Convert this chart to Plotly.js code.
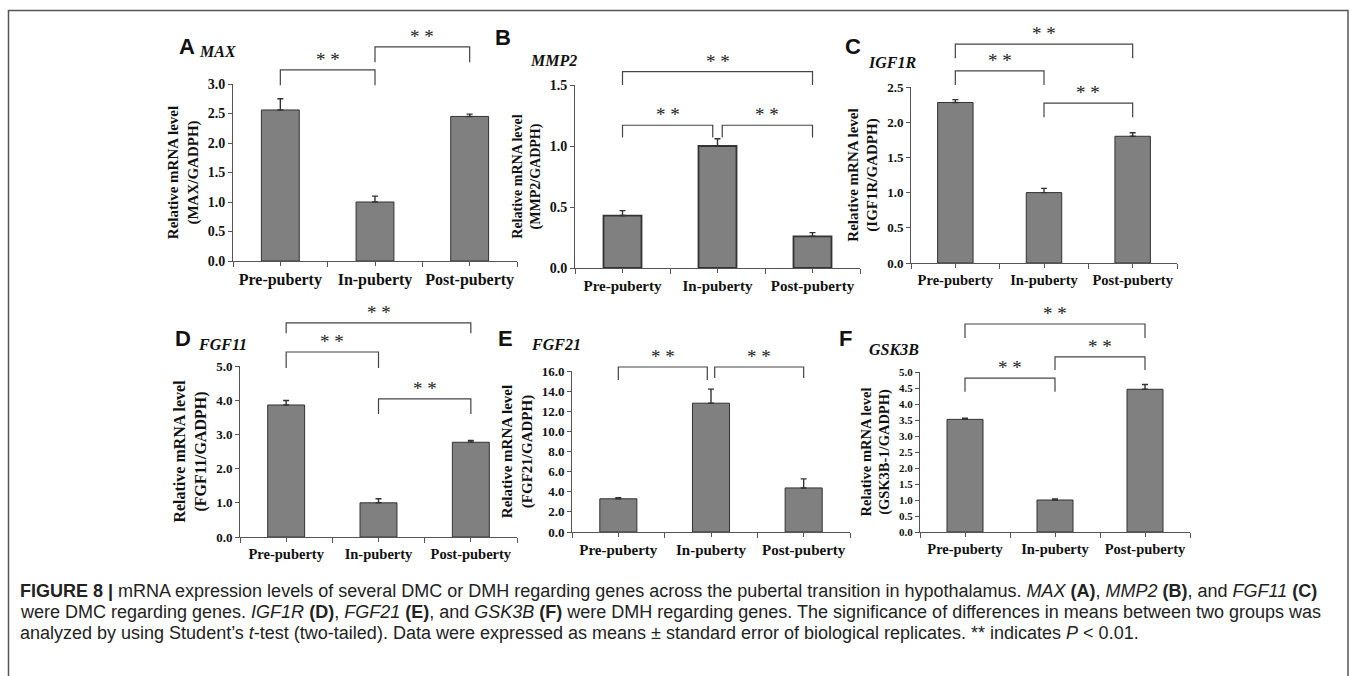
<!DOCTYPE html>
<html><head><meta charset="utf-8">
<script src="https://cdn.plot.ly/plotly-3.0.1.min.js"></script>
<style>html,body{margin:0;padding:0;background:#fff}#chart{width:1357px;height:676px}</style>
</head><body><div id="chart"></div>
<script>
// ---------- DATA ----------
const categories = ['Pre-puberty', 'In-puberty', 'Post-puberty'];
const panelLetters = ['A', 'B', 'C', 'D', 'E', 'F'];
const geneNames = ['MAX', 'MMP2', 'IGF1R', 'FGF11', 'FGF21', 'GSK3B'];
const yTitleRatios = ['MAX/GADPH', 'MMP2/GADPH', 'IGF1R/GADPH', 'FGF11/GADPH', 'FGF21/GADPH', 'GSK3B-1/GADPH'];

const maxMean = [2.56, 1.00, 2.45];
const maxErr = [0.19, 0.10, 0.04];
const mmp2Mean = [0.43, 1.00, 0.26];
const mmp2Err = [0.04, 0.06, 0.03];
const igf1rMean = [2.28, 1.00, 1.80];
const igf1rErr = [0.04, 0.06, 0.05];
const fgf11Mean = [3.86, 1.00, 2.77];
const fgf11Err = [0.13, 0.12, 0.05];
const fgf21Mean = [3.30, 12.80, 4.38];
const fgf21Err = [0.10, 1.40, 0.90];
const gsk3bMean = [3.52, 1.00, 4.46];
const gsk3bErr = [0.04, 0.03, 0.15];

// significant pairwise comparisons (category indices) and their label
const maxPairs = [[0, 1], [1, 2]];
const mmp2Pairs = [[0, 2], [0, 1], [1, 2]];
const igf1rPairs = [[0, 2], [0, 1], [1, 2]];
const fgf11Pairs = [[0, 2], [0, 1], [1, 2]];
const fgf21Pairs = [[0, 1], [1, 2]];
const gsk3bPairs = [[0, 2], [0, 1], [1, 2]];
const sigLabel = '* *';

const means = [maxMean, mmp2Mean, igf1rMean, fgf11Mean, fgf21Mean, gsk3bMean];
const errs = [maxErr, mmp2Err, igf1rErr, fgf11Err, fgf21Err, gsk3bErr];
const pairs = [maxPairs, mmp2Pairs, igf1rPairs, fgf11Pairs, fgf21Pairs, gsk3bPairs];

// ---------- LAYOUT (pixel geometry & styles) ----------
const W = 1357, H = 676;
const panels = [
  {x0: 233, x1: 517, ytop: 84, ybot: 261, ymax: 3, dtick: 0.5, brTop: 15, tickSize: 14, xSize: 16, tSize: 15,
   letter: [187, 47], gene: [197, 51],
   br: [[3.24, 2.98, 2.98, 0, 0], [3.63, 3.37, 3.37, 0, 0]]},
  {x0: 575, x1: 860, ytop: 85, ybot: 268, ymax: 1.5, dtick: 0.5, brTop: 15, tickSize: 14, xSize: 15, tSize: 14,
   letter: [503, 37], gene: [528, 60],
   br: [[1.61, 1.50, 1.50, 0, 0], [1.17, 1.07, 1.07, 0, -0.05], [1.17, 1.07, 1.07, 0.05, 0]]},
  {x0: 911, x1: 1177, ytop: 87, ybot: 263, ymax: 2.5, dtick: 0.5, brTop: 15, tickSize: 13, xSize: 14.5, tSize: 15,
   letter: [853, 47], gene: [866, 63],
   br: [[3.11, 2.91, 2.91, 0, 0], [2.73, 2.53, 2.53, 0, 0], [2.27, 2.07, 2.07, 0, 0]]},
  {x0: 240, x1: 517, ytop: 366, ybot: 537, ymax: 5, dtick: 1, brTop: 300, tickSize: 13, xSize: 14.5, tSize: 16,
   letter: [183, 338], gene: [196, 344],
   br: [[6.26, 5.96, 5.96, 0, 0], [5.41, 4.94, 4.94, 0, 0], [4.04, 3.60, 3.60, 0, 0]]},
  {x0: 572, x1: 850, ytop: 371, ybot: 532, ymax: 16, dtick: 2, brTop: 300, tickSize: 13, xSize: 15, tSize: 15,
   letter: [505, 338], gene: [529, 344],
   br: [[16.4, 15.1, 15.1, 0, -0.04], [16.4, 15.3, 15.3, 0.04, 0]]},
  {x0: 920, x1: 1190, ytop: 372, ybot: 532, ymax: 5, dtick: 0.5, brTop: 300, tickSize: 11, xSize: 14.5, tSize: 14.5,
   letter: [845, 338], gene: [867, 349],
   br: [[6.5, 6.06, 6.06, 0, 0], [4.81, 4.38, 4.38, 0, 0], [5.47, 5.06, 5.06, 0, 0]]}
];

const serif = 'Liberation Serif, Times New Roman, serif';
const sans = 'Liberation Sans, Arial, sans-serif';
const axisColor = '#555';

const data = [];
const layout = {
  width: W, height: H,
  margin: {l: 0, r: 0, t: 0, b: 0},
  paper_bgcolor: '#fff', plot_bgcolor: 'rgba(0,0,0,0)',
  showlegend: false,
  annotations: [],
  shapes: []
};

panels.forEach((p, i) => {
  const n = i + 1;
  const xa = 'x' + n, ya = 'y' + n, yb = 'y' + (n + 6);
  const xi = categories.map((c, k) => k);

  data.push({
    type: 'bar', x: xi, y: means[i], xaxis: xa, yaxis: ya, width: 0.4,
    marker: {color: '#808080', line: {color: '#333', width: i === 1 ? 1.8 : 1}},
    error_y: {type: 'data', symmetric: false, array: errs[i], arrayminus: errs[i].map(() => 0),
              color: '#333', thickness: 1.4, width: 3},
    hoverinfo: 'skip'
  });

  pairs[i].forEach((pr, j) => {
    const b = p.br[j];
    const xa0 = pr[0] + b[3], xb0 = pr[1] + b[4];
    data.push({
      type: 'scatter', mode: 'lines', xaxis: xa, yaxis: yb,
      x: [xa0, xa0, xb0, xb0], y: [b[1], b[0], b[0], b[2]],
      line: {color: '#444', width: 1.2}, hoverinfo: 'skip'
    });
    layout.annotations.push({
      xref: xa, yref: yb, x: (xa0 + xb0) / 2, y: b[0], text: sigLabel,
      showarrow: false, yanchor: 'bottom', xanchor: 'center', yshift: -2,
      font: {family: serif, size: 19, color: '#222'}
    });
  });

  layout['xaxis' + n] = {
    domain: [p.x0 / W, p.x1 / W], anchor: ya, range: [-0.5, 2.5],
    tickmode: 'array', tickvals: xi, ticktext: categories,
    showline: true, linecolor: axisColor, linewidth: 1,
    ticks: 'outside', ticklen: 4, tickcolor: axisColor, tickwidth: 1,
    minor: {tickmode: 'array', tickvals: [-0.5, 0.5, 1.5, 2.5], ticks: 'outside', ticklen: 5, tickcolor: axisColor, tickwidth: 1},
    tickfont: {family: serif, size: p.xSize, color: '#111', weight: 'bold'},
    showgrid: false, zeroline: false, fixedrange: true
  };
  layout['yaxis' + n] = {
    domain: [1 - p.ybot / H, 1 - p.ytop / H], anchor: xa, range: [0, p.ymax],
    tick0: 0, dtick: p.dtick, tickformat: '.1f',
    showline: true, linecolor: axisColor, linewidth: 1,
    ticks: 'outside', ticklen: 4, tickcolor: axisColor, tickwidth: 1,
    tickfont: {family: serif, size: p.tickSize, color: '#111', weight: 'bold'},
    title: {text: 'Relative mRNA level<br>(' + yTitleRatios[i] + ')', standoff: 5,
            font: {family: serif, size: p.tSize, color: '#111', weight: 'bold'}},
    showgrid: false, zeroline: false, fixedrange: true
  };
  layout['yaxis' + (n + 6)] = {
    domain: [1 - p.ybot / H, 1 - p.brTop / H], anchor: xa,
    range: [0, p.ymax * (p.ybot - p.brTop) / (p.ybot - p.ytop)],
    visible: false, fixedrange: true
  };

  layout.annotations.push({
    xref: 'paper', yref: 'paper', x: p.letter[0] / W, y: 1 - p.letter[1] / H,
    xanchor: 'center', yanchor: 'middle', showarrow: false, text: panelLetters[i],
    font: {family: sans, size: 22, color: '#111', weight: 'bold'}
  });
  layout.annotations.push({
    xref: 'paper', yref: 'paper', x: p.gene[0] / W, y: 1 - p.gene[1] / H,
    xanchor: 'left', yanchor: 'middle', showarrow: false, text: geneNames[i],
    font: {family: serif, size: 16, color: '#111', weight: 'bold', style: 'italic'}
  });
});

// caption
const captionLines = [
  '<b>FIGURE 8 |</b> mRNA expression levels of several DMC or DMH regarding genes across the pubertal transition in hypothalamus. <i>MAX</i> <b>(A)</b>, <i>MMP2</i> <b>(B)</b>, and <i>FGF11</i> <b>(C)</b>',
  'were DMC regarding genes. <i>IGF1R</i> <b>(D)</b>, <i>FGF21</i> <b>(E)</b>, and <i>GSK3B</i> <b>(F)</b> were DMH regarding genes. The significance of differences in means between two groups was',
  'analyzed by using Student\u2019s <i>t</i>-test (two-tailed). Data were expressed as means \u00b1 standard error of biological replicates. ** indicates <i>P</i> &lt; 0.01.'
];
const captionY = [591, 612, 633];
captionLines.forEach((t, k) => {
  layout.annotations.push({
    xref: 'paper', yref: 'paper', x: 18 / W, y: 1 - captionY[k] / H,
    xanchor: 'left', yanchor: 'middle', showarrow: false, text: t, align: 'left',
    font: {family: sans, size: 18, color: '#222'}
  });
});

// frame
layout.shapes.push({
  type: 'rect', xref: 'paper', yref: 'paper',
  x0: 8.5 / W, x1: 1348 / W, y0: 1 - 10.5 / H, y1: -0.05,
  line: {color: '#555', width: 1.5}, fillcolor: 'rgba(0,0,0,0)'
});

Plotly.newPlot('chart', data, layout, {staticPlot: true, displayModeBar: false});
</script>
</body></html>
